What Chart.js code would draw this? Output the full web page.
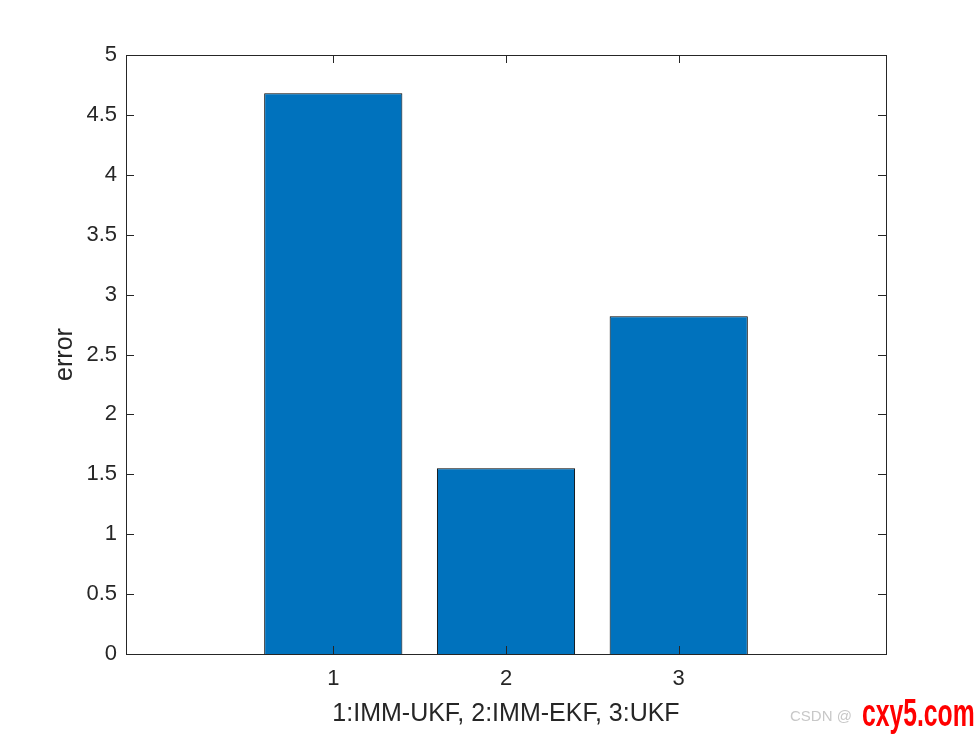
<!DOCTYPE html>
<html>
<head>
<meta charset="utf-8">
<script src="https://cdn.jsdelivr.net/npm/chart.js@4.4.1/dist/chart.umd.min.js"></script>
<style>
  html, body { margin: 0; padding: 0; background: #fff; }
  #wrap { position: relative; width: 980px; height: 735px; }
  #mark1 { position: absolute; left: 790px; top: 707px; font: 15px "Liberation Sans", Arial, sans-serif; color: #c8c8c8; }
  #mark2 { position: absolute; left: 862px; top: 692px; font: bold 38px "Liberation Sans", Arial, sans-serif; color: #ff0000; transform: scaleX(0.65); transform-origin: left top; white-space: nowrap; }
</style>
</head>
<body>
<div id="wrap">
  <canvas id="barChart" width="980" height="735"></canvas>
  <div id="mark1">CSDN @</div>
  <div id="mark2">cxy5.com</div>
</div>
<script>
const positions = [1, 2, 3];
const errorValues = [4.68, 1.55, 2.82];
const yTicks = [0, 0.5, 1, 1.5, 2, 2.5, 3, 3.5, 4, 4.5, 5];
const xTicks = [1, 2, 3];
const xTitle = "1:IMM-UKF, 2:IMM-EKF, 3:UKF";
const yTitle = "error";

const textColor = "#262626";
const fontFamily = "'Liberation Sans', Arial, Helvetica, sans-serif";

// MATLAB style box with inward ticks on all four sides
const boxPlugin = {
  id: "box",
  afterDraw(chart) {
    const { ctx, chartArea: a, scales } = chart;
    ctx.save();
    ctx.strokeStyle = "#262626";
    ctx.lineWidth = 1;
    ctx.strokeRect(a.left + 0.5, a.top + 0.5, a.right - a.left, a.bottom - a.top);
    ctx.beginPath();
    const len = 8;
    yTicks.forEach((v) => {
      const y = Math.round(scales.y.getPixelForValue(v)) + 0.5;
      ctx.moveTo(a.left, y); ctx.lineTo(a.left + len, y);
      ctx.moveTo(a.right, y); ctx.lineTo(a.right - len, y);
    });
    xTicks.forEach((v) => {
      const x = Math.round(scales.x.getPixelForValue(v)) + 0.5;
      ctx.moveTo(x, a.bottom); ctx.lineTo(x, a.bottom - len);
      ctx.moveTo(x, a.top); ctx.lineTo(x, a.top + len);
    });
    ctx.stroke();
    ctx.restore();
  },
};

const ctx = document.getElementById("barChart");
new Chart(ctx, {
  type: "bar",
  data: {
    datasets: [
      {
        data: positions.map((p, i) => ({ x: p, y: errorValues[i] })),
        backgroundColor: "#0072BD",
        borderColor: "#000000",
        borderWidth: 1,
        barPercentage: 1,
        categoryPercentage: 0.8,
      },
    ],
  },
  options: {
    responsive: false,
    animation: false,
    layout: { padding: { left: 0, right: 94, top: 55, bottom: 0 } },
    plugins: { legend: { display: false }, tooltip: { enabled: false } },
    scales: {
      x: {
        type: "linear",
        offset: false,
        min: -0.2,
        max: 4.2,
        afterBuildTicks: (s) => { s.ticks = xTicks.map((v) => ({ value: v })); },
        afterFit: (s) => { s.height = 81; },
        grid: { display: false, drawTicks: false },
        border: { display: false },
        ticks: { color: textColor, font: { family: fontFamily, size: 22 }, padding: 12, maxRotation: 0, callback: (v) => String(v) },
        title: { display: true, text: xTitle, color: textColor, font: { family: fontFamily, size: 25 }, padding: { top: 0, bottom: 6 } },
      },
      y: {
        min: 0,
        max: 5,
        afterBuildTicks: (s) => { s.ticks = yTicks.map((v) => ({ value: v })); },
        afterFit: (s) => { s.width = 126; },
        grid: { display: false, drawTicks: false },
        border: { display: false },
        ticks: { color: textColor, font: { family: fontFamily, size: 22 }, padding: 9, callback: (v) => String(v) },
        title: { display: true, text: yTitle, color: textColor, font: { family: fontFamily, size: 25 }, padding: { top: 50, bottom: 0 } },
      },
    },
  },
  plugins: [boxPlugin],
});
</script>
</body>
</html>
